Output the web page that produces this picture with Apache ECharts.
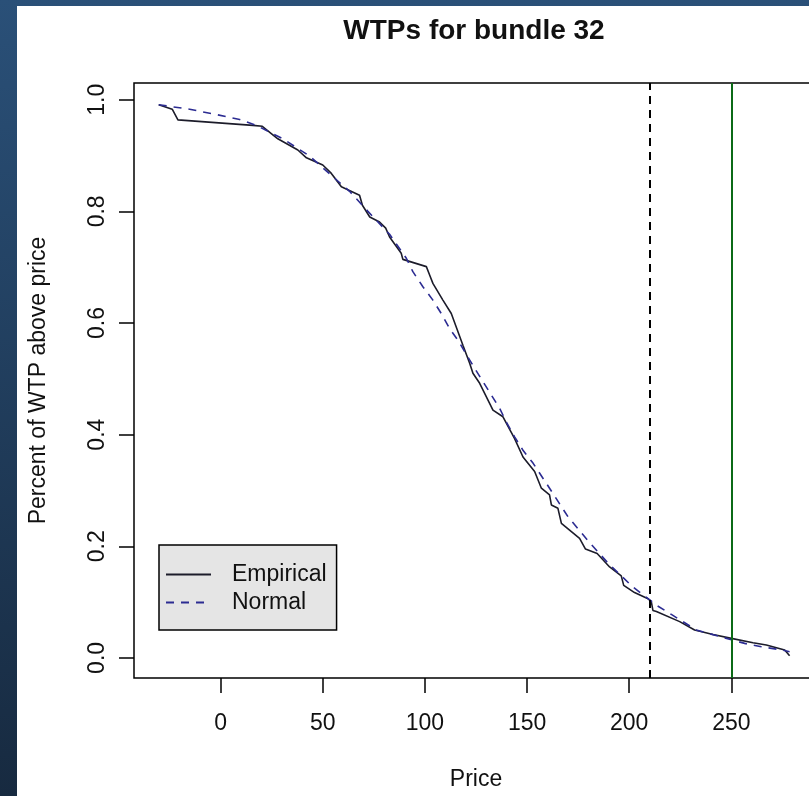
<!DOCTYPE html>
<html>
<head>
<meta charset="utf-8">
<script src="https://cdn.jsdelivr.net/npm/echarts@6/dist/echarts.min.js"></script>
<style>
  html, body { margin: 0; padding: 0; width: 809px; height: 796px; overflow: hidden;
    background: linear-gradient(to bottom, #2a5078, #172a40); }
  /* plot region runs past the right edge of the picture, as in the original */
  #chart { position: absolute; left: 17px; top: 6px; width: 801px; height: 790px; background: #fff; }
</style>
</head>
<body>
<div id="chart"></div>
<script>
// empirical WTP curve (price, share of WTP above price)
let empPrice = [-30.3, -23.7, -20.9, 15.8, 20.4, 28, 37.8, 42, 50, 54.2, 59.1, 68, 69.4, 73, 77.8, 80.8, 82.7, 88.4, 89.2,
  100.7, 102.3, 103.9, 108.8, 112.9, 118.6, 121.9, 123.5, 126.8, 133.3, 138.2, 143.9, 148, 153.7, 157, 161, 161.9,
  165.1, 166.8, 175.7, 178.6, 184.3, 190.4, 196.1, 197.3, 202.6, 209.2, 210.8, 211.6, 213.3, 224.7, 232, 241, 250,
  260.6, 267.1, 276.1, 278.5]
let empShare = [0.991, 0.983, 0.964, 0.954, 0.9525, 0.930, 0.910, 0.896, 0.883, 0.868, 0.844, 0.829, 0.811, 0.790, 0.781, 0.770, 0.754, 0.725, 0.714,
  0.701, 0.686, 0.671, 0.641, 0.617, 0.560, 0.528, 0.510, 0.492, 0.444, 0.432, 0.393, 0.360, 0.334, 0.304, 0.292, 0.274,
  0.268, 0.241, 0.214, 0.195, 0.187, 0.163, 0.147, 0.130, 0.117, 0.106, 0.101, 0.085, 0.083, 0.065, 0.050, 0.042, 0.035,
  0.027, 0.023, 0.014, 0.004]

// fitted normal curve
let normPrice = [-30.3, -15.2, -2.1, 9.3, 17.5, 30.5, 43.6, 55, 63.1, 72.1, 77, 82.7, 90.9, 94.1, 99, 103.9, 108, 112.1,
  116.2, 124.3, 128.4, 132.5, 136.6, 139.8, 143.9, 148, 152.9, 161, 170, 179.8, 189.6, 201.5, 213.5, 221, 232.8,
  256.5, 264.7, 275.2, 278.5]
let normShare = [0.991, 0.983, 0.9735, 0.9645, 0.954, 0.930, 0.899, 0.862, 0.836, 0.800, 0.781, 0.759, 0.716, 0.692, 0.665, 0.641, 0.617, 0.590,
  0.569, 0.519, 0.495, 0.471, 0.447, 0.423, 0.396, 0.372, 0.349, 0.304, 0.253, 0.210, 0.170, 0.128, 0.094, 0.077, 0.050,
  0.026, 0.020, 0.014, 0.011]

let xTicks = [0, 50, 100, 150, 200, 250]
let yTicks = [0, 0.2, 0.4, 0.6, 0.8, 1.0]
let cutoffPrice = 210
let bundlePrice = 250

let font = 'Liberation Sans, Arial, sans-serif'

function pairs(xs, ys) {
  return xs.map((x, i) => [x, ys[i]])
}

let chart = echarts.init(document.getElementById('chart'))
chart.setOption({
  animation: false,
  title: {
    text: 'WTPs for bundle 32',
    left: 452,
    top: 6,
    textAlign: 'center',
    textStyle: { fontFamily: font, fontSize: 28, fontWeight: 'bold', color: '#111' }
  },
  grid: {
    left: 117, top: 77, width: 684, height: 595,
    show: true, borderColor: '#000', borderWidth: 1.5, backgroundColor: 'transparent'
  },
  legend: {
    orient: 'vertical',
    left: 142, top: 539,
    backgroundColor: '#e5e5e5',
    borderColor: '#000', borderWidth: 1.5,
    padding: [18, 10, 16, 6],
    itemWidth: 45, itemHeight: 14, itemGap: 5,
    itemStyle: { opacity: 0 },
    textStyle: { fontFamily: font, fontSize: 23, color: '#111', padding: [0, 0, 0, 16] },
    data: ['Empirical', 'Normal']
  },
  xAxis: {
    type: 'value',
    min: -42.4, max: 292.4,
    name: 'Price', nameLocation: 'middle', nameGap: 90,
    nameTextStyle: { fontFamily: font, fontSize: 23, color: '#111' },
    axisLine: { show: false, onZero: false },
    axisTick: { show: true, length: 15, customValues: xTicks, lineStyle: { color: '#000', width: 1.5 } },
    axisLabel: { customValues: xTicks, margin: 34, fontFamily: font, fontSize: 23, color: '#111' },
    splitLine: { show: false }
  },
  yAxis: {
    type: 'value',
    min: -0.036, max: 1.03,
    name: 'Percent of WTP above price', nameLocation: 'middle', nameGap: 84,
    nameTextStyle: { fontFamily: font, fontSize: 23, color: '#111' },
    axisLine: { show: false, onZero: false },
    axisTick: { show: true, length: 15, customValues: yTicks, lineStyle: { color: '#000', width: 1.5 } },
    axisLabel: {
      customValues: yTicks, rotate: 90, margin: 25, fontFamily: font, fontSize: 23, color: '#111',
      formatter: v => v.toFixed(1)
    },
    splitLine: { show: false }
  },
  series: [
    {
      name: 'Empirical',
      type: 'line',
      symbol: 'none',
      data: pairs(empPrice, empShare),
      lineStyle: { color: '#1c1c2a', width: 1.6 },
      itemStyle: { color: '#1c1c2a' },
      markLine: {
        silent: true,
        symbol: 'none',
        label: { show: false },
        data: [
          { xAxis: cutoffPrice, lineStyle: { color: '#000', width: 2, type: [8, 6] } },
          { xAxis: bundlePrice, lineStyle: { color: '#0b6a16', width: 2, type: 'solid' } }
        ]
      }
    },
    {
      name: 'Normal',
      type: 'line',
      symbol: 'none',
      data: pairs(normPrice, normShare),
      lineStyle: { color: '#2c2c92', width: 1.6, type: [8, 7] },
      itemStyle: { color: '#2c2c92' }
    }
  ]
})
</script>
</body>
</html>
